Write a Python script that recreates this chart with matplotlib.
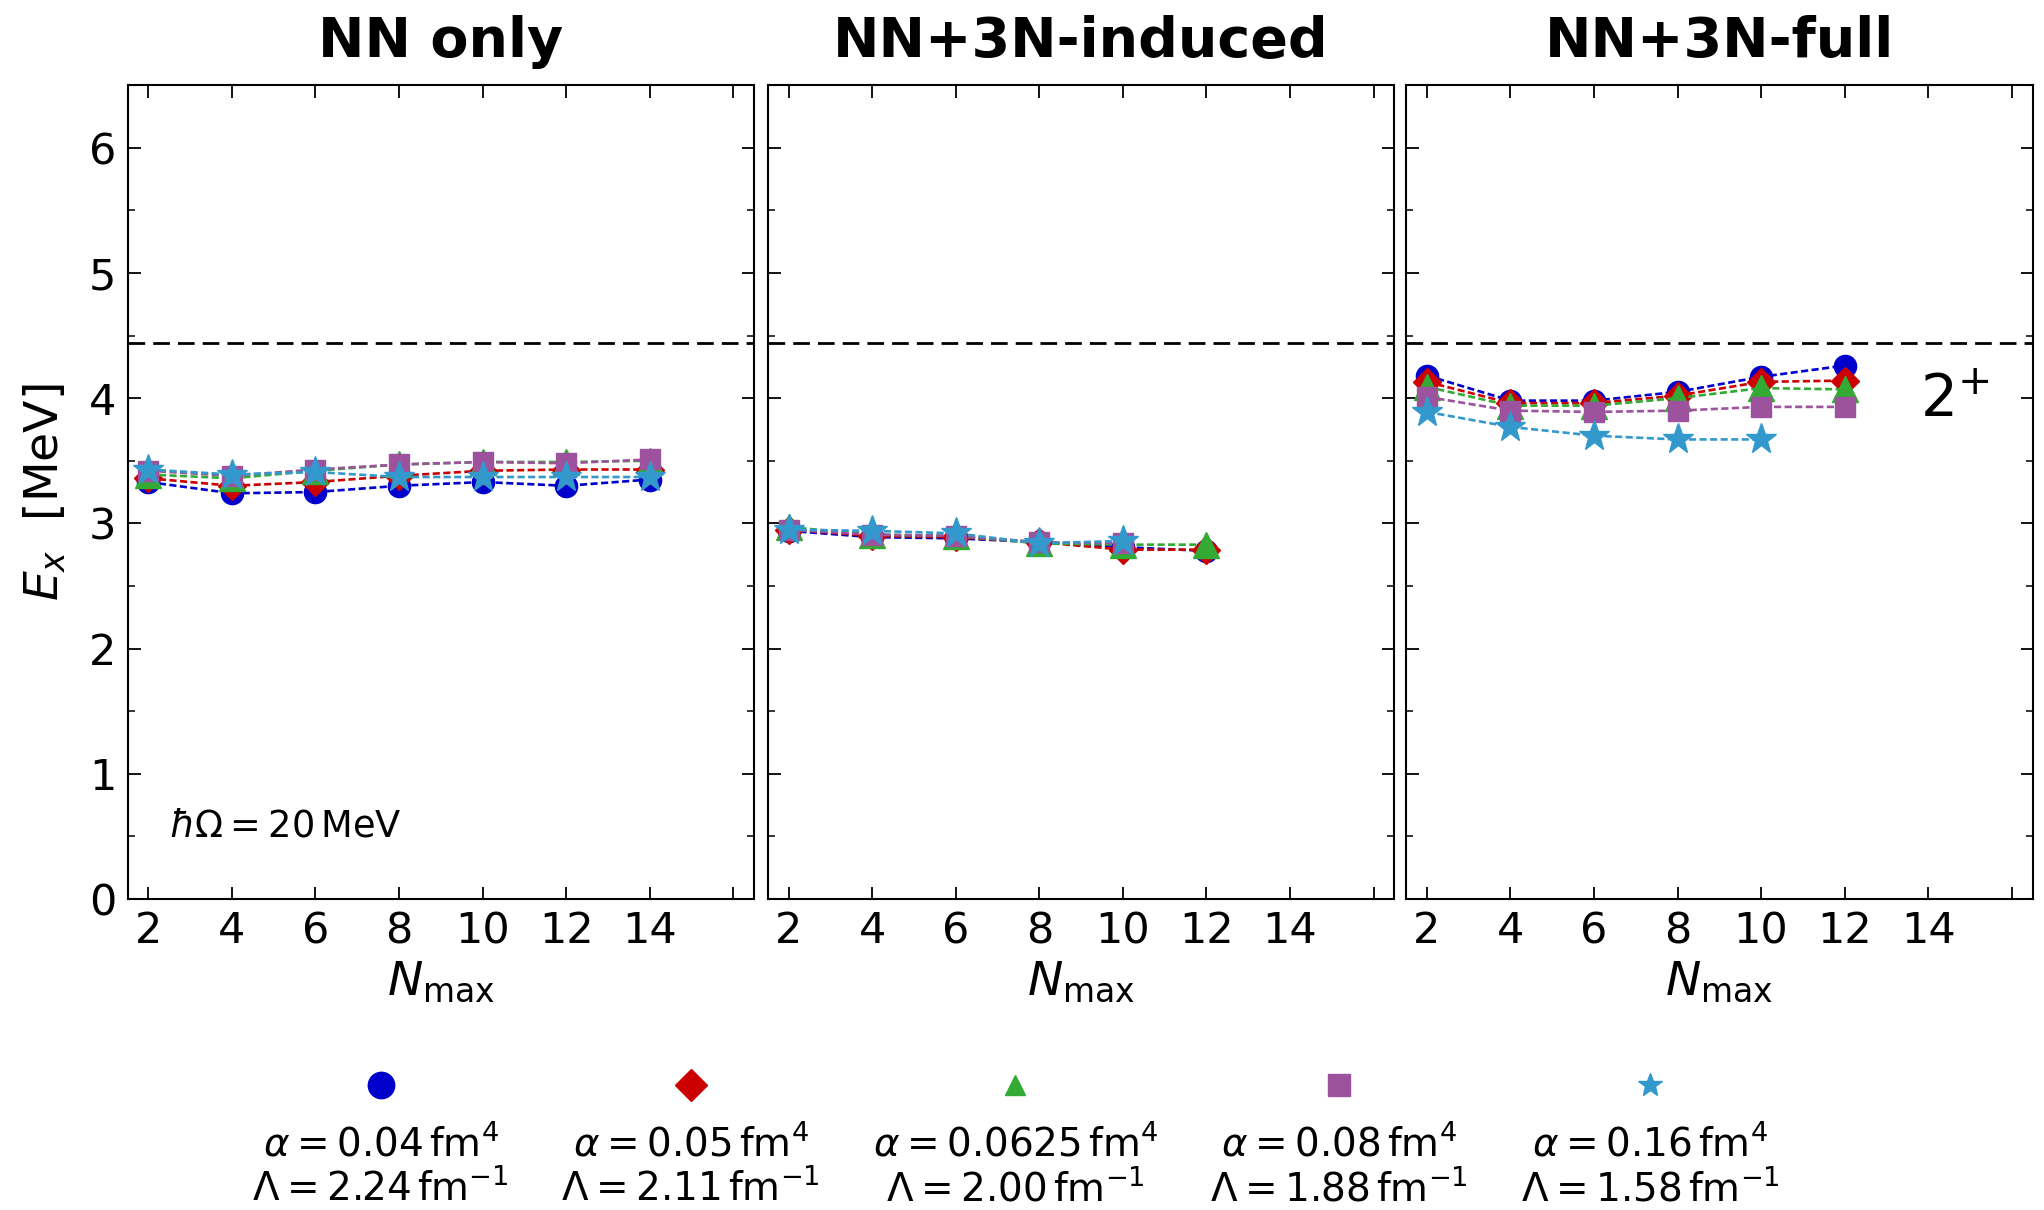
import matplotlib.pyplot as plt
import matplotlib as mpl
from matplotlib.lines import Line2D
from matplotlib.offsetbox import VPacker
from matplotlib.ticker import MultipleLocator

mpl.rcParams.update(
    {
        "font.family": "DejaVu Sans",
        "mathtext.fontset": "dejavusans",
        "xtick.direction": "in",
        "ytick.direction": "in",
        "xtick.top": True,
        "ytick.right": True,
        "xtick.major.size": 9,
        "ytick.major.size": 9,
        "ytick.minor.size": 5,
        "xtick.major.width": 1.3,
        "ytick.major.width": 1.3,
        "ytick.minor.width": 1.1,
        "axes.linewidth": 1.5,
    }
)

nmax = [2, 4, 6, 8, 10, 12, 14]
panel_titles = ["NN only", "NN+3N-induced", "NN+3N-full"]

labels = [
    "$\\alpha = 0.04\\,\\mathrm{fm}^4$\n$\\Lambda = 2.24\\,\\mathrm{fm}^{-1}$",
    "$\\alpha = 0.05\\,\\mathrm{fm}^4$\n$\\Lambda = 2.11\\,\\mathrm{fm}^{-1}$",
    "$\\alpha = 0.0625\\,\\mathrm{fm}^4$\n$\\Lambda = 2.00\\,\\mathrm{fm}^{-1}$",
    "$\\alpha = 0.08\\,\\mathrm{fm}^4$\n$\\Lambda = 1.88\\,\\mathrm{fm}^{-1}$",
    "$\\alpha = 0.16\\,\\mathrm{fm}^4$\n$\\Lambda = 1.58\\,\\mathrm{fm}^{-1}$",
]
colors = ["#0000cc", "#cc0000", "#33aa33", "#9c529c", "#3399cc"]
markers = ["o", "D", "^", "s", "*"]
marker_sizes = [16, 14, 19, 14.5, 23]
legend_marker_sizes = [19, 16.5, 15, 16.5, 18]

# excitation energies E_x [MeV], one list per alpha, indexed by Nmax
nn_only = [
    [3.33, 3.24, 3.25, 3.30, 3.33, 3.30, 3.35],
    [3.36, 3.30, 3.33, 3.38, 3.42, 3.43, 3.43],
    [3.39, 3.36, 3.42, 3.47, 3.49, 3.49, 3.50],
    [3.42, 3.38, 3.43, 3.47, 3.49, 3.48, 3.51],
    [3.43, 3.39, 3.41, 3.37, 3.37, 3.37, 3.37],
]
nn_3n_induced = [
    [2.94, 2.89, 2.88, 2.85, 2.81, 2.78],
    [2.95, 2.90, 2.89, 2.85, 2.79, 2.79],
    [2.97, 2.91, 2.90, 2.84, 2.83, 2.83],
    [2.95, 2.91, 2.90, 2.85, 2.84],
    [2.95, 2.94, 2.92, 2.84, 2.86],
]
nn_3n_full = [
    [4.18, 3.98, 3.98, 4.05, 4.17, 4.26],
    [4.13, 3.96, 3.96, 4.02, 4.13, 4.14],
    [4.09, 3.94, 3.94, 4.00, 4.08, 4.07],
    [4.01, 3.90, 3.89, 3.90, 3.93, 3.93],
    [3.89, 3.77, 3.70, 3.67, 3.67],
]
experiment = 4.44

fig = plt.figure(figsize=(20.44, 12.10), dpi=100)
lefts = [0.0624, 0.3757, 0.6879]
axes = [fig.add_axes([l, 0.257, 0.3065, 0.6727]) for l in lefts]

for i, (ax, data) in enumerate(zip(axes, [nn_only, nn_3n_induced, nn_3n_full])):
    for vals, c, m, ms in zip(data, colors, markers, marker_sizes):
        ax.plot(
            nmax[: len(vals)],
            vals,
            linestyle=(0, (2.7, 1.3)),
            linewidth=1.9,
            color=c,
            marker=m,
            markersize=ms,
            markeredgecolor=c,
        )
    ax.axhline(experiment, color="k", linestyle=(0, (6, 2.9)), linewidth=2)
    ax.set_xlim(1.5, 16.5)
    ax.set_ylim(0, 6.5)
    ax.set_xticks(range(2, 17, 2))
    ax.set_xticklabels([str(n) for n in range(2, 15, 2)] + [""])
    ax.yaxis.set_major_locator(MultipleLocator(1))
    ax.yaxis.set_minor_locator(MultipleLocator(0.5))
    ax.tick_params(labelsize=31, pad=8)
    ax.set_title(panel_titles[i], fontsize=40, fontweight="bold", pad=20)
    ax.set_xlabel("$N_{\\mathrm{max}}$", fontsize=34, labelpad=5)
    if i > 0:
        ax.set_yticklabels([])

axes[0].set_ylabel("$E_x$  [MeV]", fontsize=34, labelpad=15)
axes[0].text(2.5, 0.58, "$\\hbar\\Omega = 20\\,\\mathrm{MeV}$", fontsize=26.5, va="center")
axes[2].text(13.8, 3.98, "$2^{+}$", fontsize=42, va="center")

handles = [
    Line2D([], [], linestyle="none", marker=m, markersize=s, color=c, markeredgecolor=c)
    for m, s, c in zip(markers, legend_marker_sizes, colors)
]
leg = fig.legend(
    handles,
    labels,
    loc="lower center",
    bbox_to_anchor=(0.497, -0.013),
    ncol=5,
    frameon=False,
    fontsize=28,
    numpoints=1,
    columnspacing=1.35,
    handletextpad=0.65,
    borderaxespad=0.05,
)
# put the markers above their labels
for col in leg._legend_handle_box.get_children():
    for item in col.get_children():
        item.__class__ = VPacker
        item.align = "center"
for t in leg.get_texts():
    t.set_multialignment("center")

fig.savefig("out.png", dpi=100)
